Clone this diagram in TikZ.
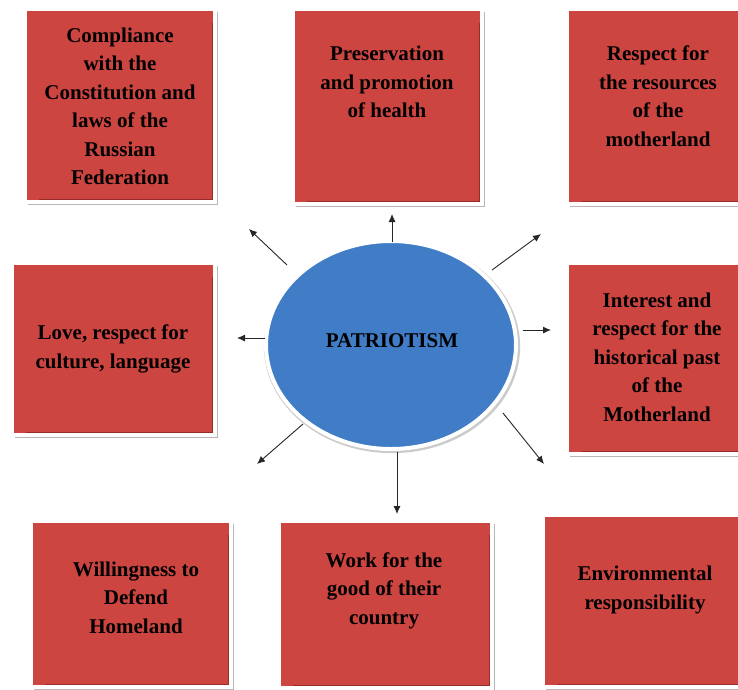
\documentclass[tikz,border=0pt]{standalone}
\usepackage{fontspec}
\setmainfont{Liberation Serif}
\usetikzlibrary{shapes.geometric,shadows,arrows.meta}
\definecolor{boxred}{RGB}{205,69,65}
\definecolor{darkred}{RGB}{150,45,42}
\definecolor{ellblue}{RGB}{64,125,198}
\tikzset{
  redbox/.style={rectangle, inner sep=0pt, fill=boxred, draw=white, line width=4pt,
    drop shadow={shadow xshift=2.5pt, shadow yshift=-2.5pt, fill=black!35, opacity=0.8},
    path picture={\draw[darkred, line width=7pt]
      ([xshift=14pt]path picture bounding box.south west) -- (path picture bounding box.south east)
      -- ([yshift=-14pt]path picture bounding box.north east);}},
  boxtext/.style={align=center, font=\fontsize{21}{28.5}\selectfont\bfseries, text=black, inner sep=0pt},
  arr/.style={draw=black!85, line width=0.9pt, -{Latex[length=8pt,width=7pt]}},
}
\begin{document}
\begin{tikzpicture}[x=1pt,y=-1pt]
\useasboundingbox (0,0) rectangle (738,689);
\fill[white] (0,0) rectangle (738,689);
\clip (0,0) rectangle (738,689);
% boxes
\node[redbox, minimum width=190pt, minimum height=193pt] (b1) at (120,105.5) {};
\node[redbox, minimum width=189pt, minimum height=195pt] (b2) at (387.5,106.5) {};
\node[redbox, minimum width=189pt, minimum height=195pt] (b3) at (661.5,106.5) {};
\node[redbox, minimum width=203pt, minimum height=172pt] (b4) at (113.5,349) {};
\node[redbox, minimum width=189pt, minimum height=191pt] (b5) at (661.5,358.5) {};
\node[redbox, minimum width=200pt, minimum height=166pt] (b6) at (131,604) {};
\node[redbox, minimum width=213pt, minimum height=167pt] (b7) at (385.5,604.5) {};
\node[redbox, minimum width=209pt, minimum height=172pt] (b8) at (647.5,601) {};
% texts
\node[boxtext] (t1) at (120,106.5) {Compliance\\with the\\Constitution and\\laws of the\\Russian\\Federation};
\node[boxtext] (t2) at (387,82) {Preservation\\and promotion\\of health};
\node[boxtext] (t3) at (658,96) {Respect for\\the resources\\of the\\motherland};
\node[boxtext] (t4) at (113,349) {Love, respect for\\culture, language};
\node[boxtext] (t5) at (657,357) {Interest and\\respect for the\\historical past\\of the\\Motherland};
\node[boxtext] (t6) at (136,597.5) {Willingness to\\Defend\\Homeland};
\node[boxtext] (t7) at (384,590.5) {Work for the\\good of their\\country};
\node[boxtext] (t8) at (645,590) {Environmental\\responsibility};
% ellipse
\node[ellipse, minimum width=250pt, minimum height=208pt, inner sep=0pt, fill=ellblue,
  draw=white, line width=4pt,
  drop shadow={shadow xshift=1pt, shadow yshift=-1.5pt, shadow scale=1.025, fill=black!40, opacity=0.5}]
  (p) at (391,345) {};
\node[boxtext] (pt) at (392,341) {PATRIOTISM};
% arrows
\coordinate (s1) at (392,242); \coordinate (e1) at (392,214);
\coordinate (s2) at (287,265); \coordinate (e2) at (249,229);
\coordinate (s3) at (265,338); \coordinate (e3) at (237,338);
\coordinate (s4) at (492,270); \coordinate (e4) at (541,234);
\coordinate (s5) at (523,330); \coordinate (e5) at (551,330);
\coordinate (s6) at (503,413); \coordinate (e6) at (544,464);
\coordinate (s7) at (303,424); \coordinate (e7) at (257,464);
\coordinate (s8) at (397,452); \coordinate (e8) at (397,514);
\foreach \i in {1,...,8} {\draw[arr] (s\i) -- (e\i);}
\end{tikzpicture}
\end{document}
